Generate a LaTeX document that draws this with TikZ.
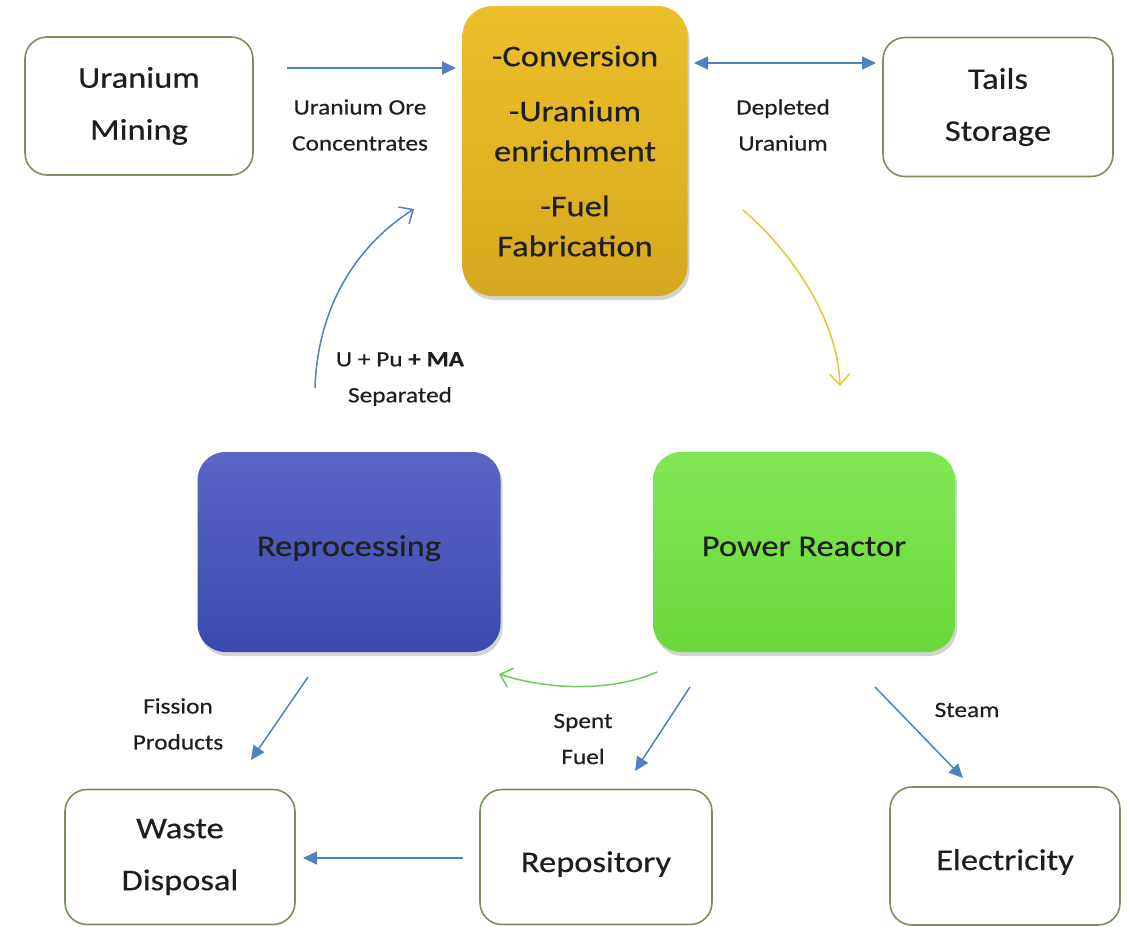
\documentclass[tikz,border=0pt]{standalone}
\usepackage{fontspec}
\setmainfont{Carlito}[FakeStretch=1.15,FakeBold=0.4]
\usetikzlibrary{arrows.meta,shadows}

\definecolor{flowblue}{RGB}{79,129,189}
\definecolor{boxedge}{RGB}{120,145,92}
\definecolor{txt}{RGB}{30,30,30}
\definecolor{ylwtop}{RGB}{236,192,42}
\definecolor{ylwbot}{RGB}{214,168,30}
\definecolor{blutop}{RGB}{90,102,198}
\definecolor{blubot}{RGB}{58,74,174}
\definecolor{grntop}{RGB}{130,232,84}
\definecolor{grnbot}{RGB}{106,216,58}
\definecolor{ylwarrow}{RGB}{226,200,50}
\definecolor{grnarrow}{RGB}{100,212,80}

\begin{document}
\begin{tikzpicture}[x=1pt,y=-1pt,
  bigtext/.style={font=\fontsize{30}{52}\selectfont, text=txt, align=center},
  smalltext/.style={font=\fontsize{22}{36}\selectfont, text=txt, align=center},
  stagebox/.style={draw=boxedge, line width=1.6pt, rounded corners=22pt, fill=white,
    bigtext, inner sep=0pt},
  plantbox/.style={rounded corners=28pt, bigtext, inner sep=0pt,
    drop shadow={opacity=0.35, shadow xshift=2pt, shadow yshift=-4pt}},
  flow/.style={draw=flowblue, line width=1.5pt, -{Triangle[length=14pt,width=13pt]}},
  curved/.style={line width=1.5pt, -{Straight Barb[length=11pt,width=20pt,line width=1.5pt]}}
]
\useasboundingbox (0,0) rectangle (1128,927);

% outer stages of the fuel cycle
\node[stagebox, minimum width=228pt, minimum height=138pt] (mining) at (139,106) {Uranium\\Mining};
\node[stagebox, minimum width=230pt, minimum height=139pt] (tails) at (998,107) {Tails\\Storage};
\node[stagebox, minimum width=230pt, minimum height=135pt] (waste) at (180,857) {Waste\\Disposal};
\node[stagebox, minimum width=232pt, minimum height=135pt, text height=34pt, text depth=4pt] (repo) at (596,857) {Repository};
\node[stagebox, minimum width=230pt, minimum height=138pt, text height=32pt, text depth=4pt] (elec) at (1005,856) {Electricity};

% front end, reactor and reprocessing plants
\node[plantbox, top color=ylwtop, bottom color=ylwbot, minimum width=225pt, minimum height=290pt,
  rounded corners=30pt, font=\fontsize{30}{40}\selectfont, text=black!88] (front) at (575,151)
  {-Conversion\\[15pt]-Uranium\\enrichment\\[15pt]-Fuel\\Fabrication};
\node[plantbox, top color=blutop, bottom color=blubot, minimum width=303pt, minimum height=200pt,
  text=black!88, text height=16pt, text depth=8pt] (repro) at (349,552) {Reprocessing};
\node[plantbox, top color=grntop, bottom color=grnbot, minimum width=302pt, minimum height=200pt,
  text=black!88, text height=16pt, text depth=8pt] (reactor) at (804,552) {Power Reactor};

% connector end points
\coordinate (oreA) at (287,68);   \coordinate (oreB) at (456,68);
\coordinate (duA) at (694,63);    \coordinate (duB) at (876,63);
\coordinate (sepA) at (315,388);  \coordinate (sepB) at (414,209);
\coordinate (fuelA) at (743,210); \coordinate (fuelB) at (840,386);
\coordinate (spentA) at (657,672);\coordinate (spentB) at (499,674);
\coordinate (fpA) at (308,677);   \coordinate (fpB) at (251,760);
\coordinate (sfA) at (690,687);   \coordinate (sfB) at (635,771);
\coordinate (stA) at (875,687);   \coordinate (stB) at (963,778);
\coordinate (rwA) at (463,858);   \coordinate (rwB) at (303,858);

% connectors
\draw[flow] (oreA) -- (oreB);
\draw[flow, {Triangle[length=14pt,width=13pt]}-{Triangle[length=14pt,width=13pt]}] (duA) -- (duB);
\draw[curved, draw=flowblue] (sepA) .. controls (318,300) and (362,242) .. (sepB);
\draw[curved, draw=ylwarrow] (fuelA) .. controls (792,252) and (838,320) .. (fuelB);
\draw[curved, draw=grnarrow] (spentA) .. controls (612,692) and (548,690) .. (spentB);
\draw[flow] (fpA) -- (fpB);
\draw[flow] (sfA) -- (sfB);
\draw[flow] (stA) -- (stB);
\draw[flow] (rwA) -- (rwB);

% connector labels
\node[smalltext] (oreL) at (360,125) {Uranium Ore\\Concentrates};
\node[smalltext] (duL) at (783,125) {Depleted\\Uranium};
\node[smalltext] (sepL) at (400,379) {U + Pu \textbf{+ MA}\\Separated};
\node[smalltext] (fpL) at (178,724) {Fission\\Products};
\node[smalltext] (sfL) at (583,739) {Spent\\Fuel};
\node[smalltext] (stL) at (967,710) {Steam};
\end{tikzpicture}
\end{document}
